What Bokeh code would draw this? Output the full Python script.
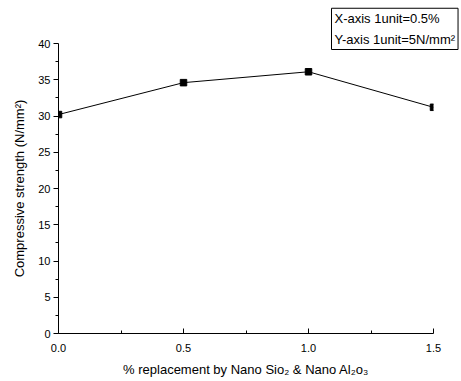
from bokeh.plotting import figure
from bokeh.models import Range1d, FixedTicker, Title
from bokeh.embed import file_html
from bokeh.resources import INLINE

replacement = [0.0, 0.5, 1.0, 1.5]
strength = [30.2, 34.6, 36.1, 31.2]
x_major = [0.0, 0.5, 1.0, 1.5]
x_minor = [0.25, 0.75, 1.25]
y_major = [0, 5, 10, 15, 20, 25, 30, 35, 40]
y_minor = [2.5, 7.5, 12.5, 17.5, 22.5, 27.5, 32.5, 37.5]
note_lines = ["X-axis 1unit=0.5%", "Y-axis 1unit=5N/mm\u00b2"]

FONT = "Liberation Sans"

p = figure(width=461, height=381, output_backend="svg", toolbar_location=None,
           x_range=Range1d(0, 1.5), y_range=Range1d(0, 40),
           min_border_left=58, min_border_right=28, min_border_top=43, min_border_bottom=48)
p.outline_line_color = None
p.xgrid.visible = False
p.ygrid.visible = False

p.line(replacement, strength, line_color="black", line_width=1)
p.scatter(replacement, strength, marker="square", size=6.5, fill_color="black", line_color="black")

xa = p.xaxis[0]
xa.ticker = FixedTicker(ticks=x_major, minor_ticks=x_minor)
xa.major_label_overrides = {0.0: "0.0", 0.5: "0.5", 1.0: "1.0", 1.5: "1.5"}
xa.major_tick_in = 5
xa.major_tick_out = 0
xa.minor_tick_in = 3
xa.minor_tick_out = 0
xa.axis_label = "% replacement by Nano Sio\u2082 & Nano Al\u2082o\u2083"

ya = p.yaxis[0]
ya.ticker = FixedTicker(ticks=y_major, minor_ticks=y_minor)
ya.major_tick_in = 0
ya.major_tick_out = 5
ya.minor_tick_in = 0
ya.minor_tick_out = 3
ya.axis_label = "Compressive strength (N/mm\u00b2)"

for ax in (xa, ya):
    ax.axis_line_color = "black"
    ax.major_tick_line_color = "black"
    ax.minor_tick_line_color = "black"
    ax.major_label_text_font = FONT
    ax.major_label_text_font_size = "11px"
    ax.major_label_text_color = "black"
    ax.axis_label_text_font = FONT
    ax.axis_label_text_font_size = "13px"
    ax.axis_label_text_font_style = "normal"
    ax.axis_label_text_color = "black"

xa.major_label_standoff = 10
xa.axis_label_standoff = 7
ya.major_label_standoff = 3
ya.axis_label_standoff = 8

note = Title(text="\n".join(note_lines), align="left", offset=273,
             text_font=FONT, text_font_size="13px", text_font_style="normal",
             text_color="black", text_line_height=1.35,
             border_line_color="black", border_line_width=1,
             background_fill_color="white", padding=3, standoff=-12)
p.add_layout(note, "above")

open("out.html", "w").write(file_html(p, INLINE))
